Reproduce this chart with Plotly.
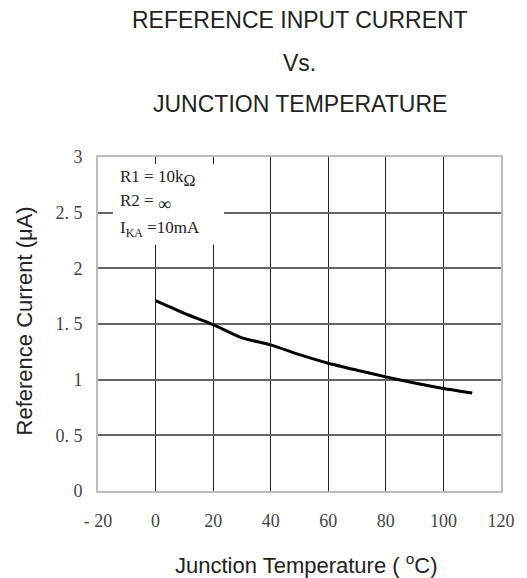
import plotly.graph_objects as go

# Data
temp_c = [0, 10, 20, 30, 40, 50, 60, 70, 80, 90, 100, 110]
ref_current_ua = [1.709, 1.595, 1.494, 1.376, 1.313, 1.225, 1.148, 1.085, 1.025, 0.97, 0.92, 0.88]

x_tickvals = [-20, 0, 20, 40, 60, 80, 100, 120]
x_ticktext = ["- 20", "0", "20", "40", "60", "80", "100", "120"]
y_tickvals = [0, 0.5, 1, 1.5, 2, 2.5, 3]
y_ticktext = ["0", "0. 5", "1", "1. 5", "2", "2. 5", "3"]

title_lines = ["REFERENCE INPUT CURRENT", "Vs.", "JUNCTION TEMPERATURE"]
cond_lines = [
    "R1 = 10k<sub><span style='font-size:16px'>Ω</span></sub>",
    "R2 = <sub><span style='font-size:18px'>∞</span></sub>",
    "I<sub>KA</sub> =10mA",
]

SANS = "Liberation Sans, Arial, sans-serif"
SERIF = "Liberation Serif, Times New Roman, serif"

fig = go.Figure()
fig.add_trace(go.Scatter(
    x=temp_c, y=ref_current_ua, mode="lines",
    line=dict(color="black", width=3, shape="spline", smoothing=0.6),
    showlegend=False, hoverinfo="skip",
))

fig.update_layout(
    width=527, height=578, autosize=False,
    margin=dict(l=98, r=23, t=157, b=87),
    paper_bgcolor="white", plot_bgcolor="white",
    showlegend=False,
)

fig.update_xaxes(
    range=[-20, 120], tickvals=x_tickvals, ticktext=x_ticktext,
    showgrid=True, gridcolor="#222", gridwidth=1.3,
    showline=True, linecolor="#bbb", linewidth=2, mirror=True,
    zeroline=False, ticks="", ticklabelstandoff=12,
    tickfont=dict(family=SERIF, size=18, color="#444"),
)
fig.update_yaxes(
    range=[0, 3], tickvals=y_tickvals, ticktext=y_ticktext,
    showgrid=True, gridcolor="#666", gridwidth=2,
    showline=True, linecolor="#bbb", linewidth=2, mirror=True,
    zeroline=True, zerolinecolor="#777", zerolinewidth=2,
    ticks="", ticklabelstandoff=10,
    tickfont=dict(family=SERIF, size=18, color="#444"),
)

# White box behind the conditions text (hides the gridlines)
fig.add_shape(type="rect", xref="paper", yref="paper",
              x0=0.037, x1=0.313, y0=0.737, y1=0.979,
              fillcolor="white", line=dict(width=0), layer="above")

title_y = [1.41, 1.281, 1.159]
for txt, yy in zip(title_lines, title_y):
    fig.add_annotation(text=txt, xref="paper", yref="paper", x=0.5, y=yy,
                       xanchor="center", yanchor="middle", showarrow=False,
                       font=dict(family=SANS, size=23, color="#222"))

cond_y = [0.937, 0.865, 0.784]
for txt, yy in zip(cond_lines, cond_y):
    fig.add_annotation(text=txt, xref="paper", yref="paper", x=0.05, y=yy,
                       xanchor="left", yanchor="middle", showarrow=False,
                       font=dict(family=SERIF, size=17, color="#222"))

fig.add_annotation(text="Reference Current (μA)", xref="paper", yref="paper",
                   x=-0.18, y=0.509, textangle=-90, showarrow=False,
                   xanchor="center", yanchor="middle",
                   font=dict(family=SANS, size=22, color="#222"))
fig.add_annotation(text="Junction Temperature ( <sup>o</sup>C)", xref="paper", yref="paper",
                   x=0.517, y=-0.218, showarrow=False,
                   xanchor="center", yanchor="middle",
                   font=dict(family=SANS, size=22, color="#222"))

fig.write_html("out.html", config={"displayModeBar": False},
               post_script="document.body.style.margin='0';")
